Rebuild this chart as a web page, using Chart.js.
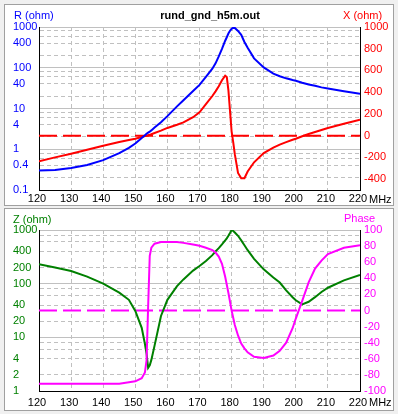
<!DOCTYPE html>
<html>
<head>
<meta charset="utf-8">
<title>rund_gnd_h5m.out</title>
<script src="https://cdn.jsdelivr.net/npm/chart.js@4.4.0/dist/chart.umd.min.js"></script>
<style>
  body { margin: 0; width: 398px; height: 414px; background: #f0f0f0; position: relative; overflow: hidden;
         font-family: "Liberation Sans", Arial, sans-serif; font-size: 11px; }
  .panel { position: absolute; left: 5px; width: 388px; background: #fff; outline: 1px solid #a0a0a0; }
  .panel canvas { display: block; }
  .lbl { position: absolute; line-height: 11px; white-space: nowrap; }
</style>
</head>
<body>
<div class="panel" style="top:5px;height:200px"><canvas id="chart-rx" width="388" height="200"></canvas></div>
<div class="panel" style="top:209px;height:201px"><canvas id="chart-zp" width="388" height="201"></canvas></div>

<div class="lbl" style="left:14px;top:10px;color:#0000ff">R (ohm)</div>
<div class="lbl" style="left:110px;top:10px;width:200px;text-align:center;font-weight:bold">rund_gnd_h5m.out</div>
<div class="lbl" style="left:343px;top:10px;color:#ff0000">X (ohm)</div>
<div class="lbl" style="left:369px;top:194px">MHz</div>
<div class="lbl" style="left:13px;top:214px;color:#008000">Z (ohm)</div>
<div class="lbl" style="left:344px;top:213px;color:#ff00ff">Phase</div>
<div class="lbl" style="left:369px;top:397px">MHz</div>

<script>
// Frequency points (MHz)
const freq = [120, 125, 130, 135, 140, 145, 148, 150, 152, 153,
  153.5, 154, 154.5, 155, 156, 158, 160, 163, 165, 168,
  170, 172, 174, 175, 176, 177, 178, 178.5, 179, 179.5,
  180, 180.5, 181, 182, 183, 184, 185, 187, 190, 193,
  195, 197, 199, 200, 202, 204, 206, 208, 210, 215,
  220];

// R (ohm), blue
const resistance = [0.30, 0.31, 0.345, 0.41, 0.54, 0.80, 1.08, 1.38, 1.9, 2.2,
  2.4, 2.55, 2.7, 2.9, 3.4, 4.6, 6.5, 11.3, 16, 27,
  38, 60, 95, 128, 190, 290, 460, 560, 690, 810,
  900, 960, 950, 800, 640, 430, 310, 170, 102, 72,
  62, 55, 50, 48, 43, 39, 36, 33, 31, 26.5,
  23];

// X (ohm), red
const reactance = [-236, -200, -166, -130, -92, -58, -40, -28, -12, -4,
  0, 4, 8, 13, 24, 46, 71, 100, 122, 170,
  215, 290, 365, 408, 455, 510, 552, 540, 420, 230,
  40, -60, -170, -343, -392, -392, -330, -245, -160, -110,
  -82, -60, -38, -28, -5, 15, 33, 52, 70, 110,
  147];

// Z (ohm), green
const impedance = [229, 200, 172, 135, 100, 68, 50, 31, 15, 7.5,
  5, 2.7, 3.0, 3.8, 7, 25, 50, 90, 120, 175,
  214, 265, 340, 400, 460, 540, 640, 700, 780, 880,
  1000, 960, 900, 780, 640, 520, 420, 290, 185, 130,
  105, 75, 56, 49, 41, 46, 56, 70, 84, 115,
  145];

// Phase (deg), magenta
const phase = [-91, -91, -91, -91, -91, -91, -89, -88, -84, -77,
  -62, 5, 68, 78, 83, 85, 85, 85, 84, 82,
  80.5, 78, 75, 72, 67, 58, 42, 32, 22, 11,
  0, -9, -18, -31, -41, -47, -52, -57.5, -59, -56,
  -50, -40, -22, -10, 12, 35, 52, 62, 70, 78,
  81];

// zero reference lines
const zeroFreq = [120, 220];
const zeroLevel = [0, 0];

// ticks and labels
const freqTicks = [120, 130, 140, 150, 160, 170, 180, 190, 200, 210, 220];
const rTicks = [0.1, 0.2, 0.4, 0.6, 0.8, 1, 2, 4, 6, 8, 10, 20, 40, 60, 80, 100, 200, 400, 600, 800, 1000];
const rLabels = [0.1, 0.4, 1, 4, 10, 40, 100, 400, 1000];
const xTicks = [-400, -200, 0, 200, 400, 600, 800, 1000];
const zTicks = [1, 2, 4, 6, 8, 10, 20, 40, 60, 80, 100, 200, 400, 600, 800, 1000];
const zLabels = [1, 2, 4, 10, 20, 40, 100, 200, 400, 1000];
const phaseTicks = [-100, -80, -60, -40, -20, 0, 20, 40, 60, 80, 100];

Chart.defaults.font.family = '"Liberation Sans", Arial, sans-serif';
Chart.defaults.font.size = 11;
Chart.defaults.color = '#000';

const GRID = '#c0c0c0';
const NONE = 'rgba(0,0,0,0)';
const isDecade = v => Math.abs(Math.log10(v) - Math.round(Math.log10(v))) < 1e-6;
const points = (xs, ys) => xs.map((x, i) => ({ x: x, y: ys[i] }));

function freqAxis(height, pad) {
  return {
    type: 'linear', min: 120, max: 220,
    afterBuildTicks: s => { s.ticks = freqTicks.map(v => ({ value: v })); },
    afterFit: s => { s.height = height; },
    ticks: { padding: pad, labelOffset: -2, autoSkip: false, maxRotation: 0, color: '#000', callback: v => String(v) },
    grid: { drawTicks: false, color: c => (c.tick && (c.tick.value === 120 || c.tick.value === 220)) ? NONE : GRID },
    border: { color: '#000', dash: [4, 3] }
  };
}

function logAxis(min, max, ticks, labels, color) {
  return {
    type: 'logarithmic', position: 'left', min: min, max: max,
    afterBuildTicks: s => { s.ticks = ticks.map(v => ({ value: v })); },
    afterFit: s => { s.width = 26; },
    ticks: { color: color, autoSkip: false, crossAlign: 'far', padding: 0,
             callback: v => labels.includes(v) ? String(v) : '' },
    grid: { drawTicks: false, color: c => (c.tick && c.tick.value === min) ? NONE : GRID },
    border: { color: '#000', dash: c => (c.tick && !isDecade(c.tick.value)) ? [4, 3] : [] }
  };
}

function rightAxis(min, max, ticks, color) {
  return {
    type: 'linear', position: 'right', min: min, max: max,
    afterBuildTicks: s => { s.ticks = ticks.map(v => ({ value: v })); },
    afterFit: s => { s.width = 33; },
    ticks: { color: color, padding: 4, autoSkip: false, callback: v => String(v) },
    grid: { drawOnChartArea: false, drawTicks: false },
    border: { color: '#000' }
  };
}

function line(data, color, axis, dash) {
  return {
    data: data, borderColor: color, borderWidth: 2, pointRadius: 0,
    tension: 0, yAxisID: axis, borderDash: dash || []
  };
}

const common = {
  responsive: false,
  animation: false,
  events: [],
  plugins: { legend: { display: false }, tooltip: { enabled: false } }
};

// R / X chart
const rxChart = new Chart(document.getElementById('chart-rx'), {
  type: 'line',
  data: {
    datasets: [
      line(points(freq, resistance), '#0000ff', 'y'),
      line(points(freq, reactance), '#ff0000', 'y2'),
      line(points(zeroFreq, zeroLevel), '#ff0000', 'y2', [18, 6])
    ]
  },
  options: Object.assign({}, common, {
    layout: { padding: { left: 8, top: 22, right: 0, bottom: 0 } },
    scales: {
      x: freqAxis(15, 2),
      y: logAxis(0.1, 1000, rTicks, rLabels, '#0000ff'),
      y2: rightAxis(-500, 1000, xTicks, '#ff0000')
    }
  })
});

// Z / Phase chart
const zpChart = new Chart(document.getElementById('chart-zp'), {
  type: 'line',
  data: {
    datasets: [
      line(points(freq, phase), '#ff00ff', 'y2'),
      line(points(freq, impedance), '#008000', 'y'),
      line(points(zeroFreq, zeroLevel), '#ff00ff', 'y2', [18, 6])
    ]
  },
  options: Object.assign({}, common, {
    layout: { padding: { left: 8, top: 21, right: 0, bottom: 0 } },
    scales: {
      x: freqAxis(19, 5),
      y: logAxis(1, 1000, zTicks, zLabels, '#008000'),
      y2: rightAxis(-100, 100, phaseTicks, '#ff00ff')
    }
  })
});
</script>
</body>
</html>
